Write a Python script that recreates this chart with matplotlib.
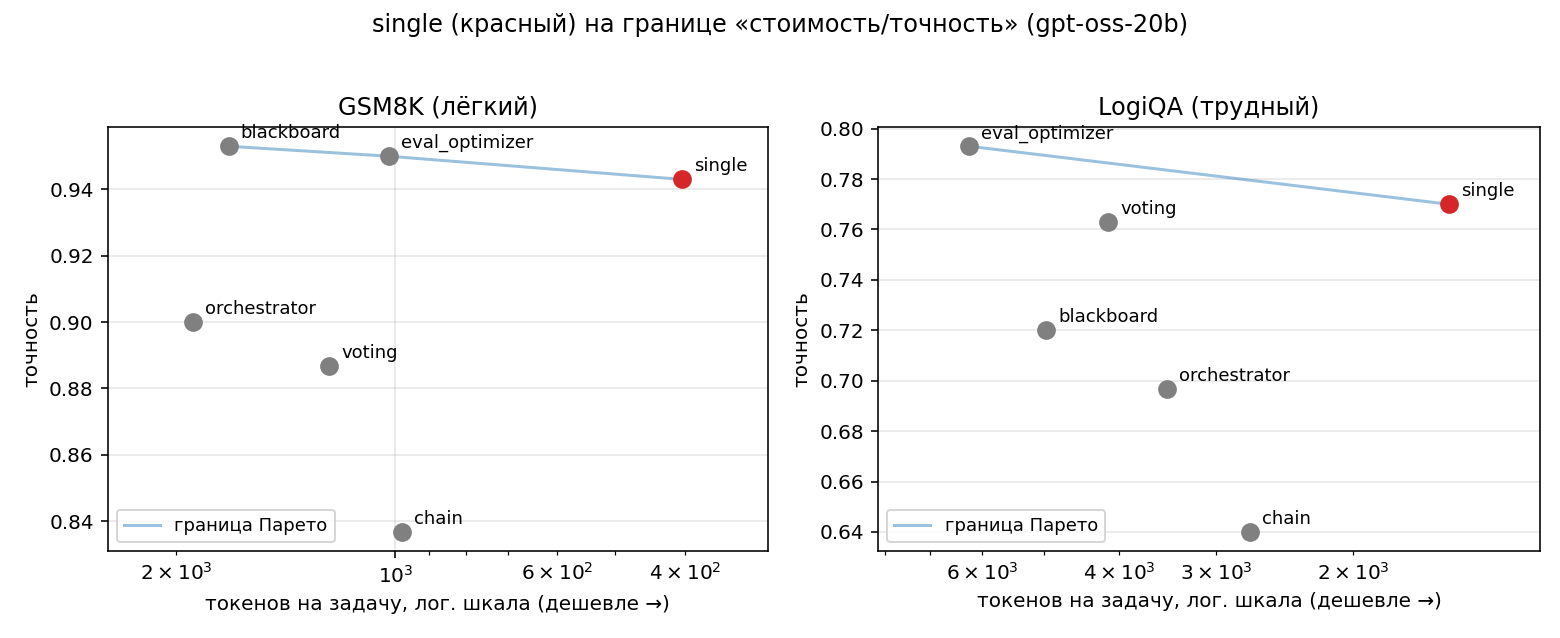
import matplotlib
matplotlib.use('Agg')
import numpy as np
from matplotlib import pyplot as plt

# данные
gsm_names = ['blackboard', 'eval_optimizer', 'single', 'orchestrator', 'voting', 'chain']
gsm_tokens = [1695, 1022, 404, 1896, 1233, 978]
gsm_acc = [0.953, 0.950, 0.943, 0.900, 0.8867, 0.8367]
gsm_pareto = ['blackboard', 'eval_optimizer', 'single']

lqa_names = ['eval_optimizer', 'single', 'voting', 'blackboard', 'orchestrator', 'chain']
lqa_tokens = [6234, 1506, 4128, 4963, 3474, 2716]
lqa_acc = [0.793, 0.770, 0.763, 0.720, 0.6967, 0.640]
lqa_pareto = ['eval_optimizer', 'single']

panels = [('GSM8K (лёгкий)', gsm_names, gsm_tokens, gsm_acc, gsm_pareto),
          ('LogiQA (трудный)', lqa_names, lqa_tokens, lqa_acc, lqa_pareto)]

DPI = 144
fig = plt.figure(figsize=(1560 / DPI, 638 / DPI), dpi=DPI)
boxes = [[0.069, 0.136, 0.423, 0.665], [0.563, 0.136, 0.424, 0.665]]

for box, (title, names, tok, acc, pareto) in zip(boxes, panels):
    ax = fig.add_axes(box)
    ax.set_xscale('log')
    # граница Парето
    px = [tok[names.index(n)] for n in pareto]
    py = [acc[names.index(n)] for n in pareto]
    ax.plot(px, py, color='#1f77b4', alpha=0.45, lw=1.5, label='граница Парето', zorder=2)
    for n, t, a in zip(names, tok, acc):
        c = '#d62728' if n == 'single' else 'gray'
        ax.scatter([t], [a], s=70, color=c, zorder=3)
        ax.annotate(n, (t, a), xytext=(6, 4), textcoords='offset points', fontsize=9)
    ax.set_xlim(max(tok) * 1.31, min(tok) / 1.31)
    ax.grid(True, alpha=0.3)
    ax.set_title(title, fontsize=12)
    ax.set_xlabel('токенов на задачу, лог. шкала (дешевле →)')
    ax.set_ylabel('точность')
    ax.legend(loc='lower left', fontsize=9)

fig.suptitle('single (красный) на границе «стоимость/точность» (gpt-oss-20b)', fontsize=12, y=0.98)
fig.savefig('out.png', dpi=DPI)
